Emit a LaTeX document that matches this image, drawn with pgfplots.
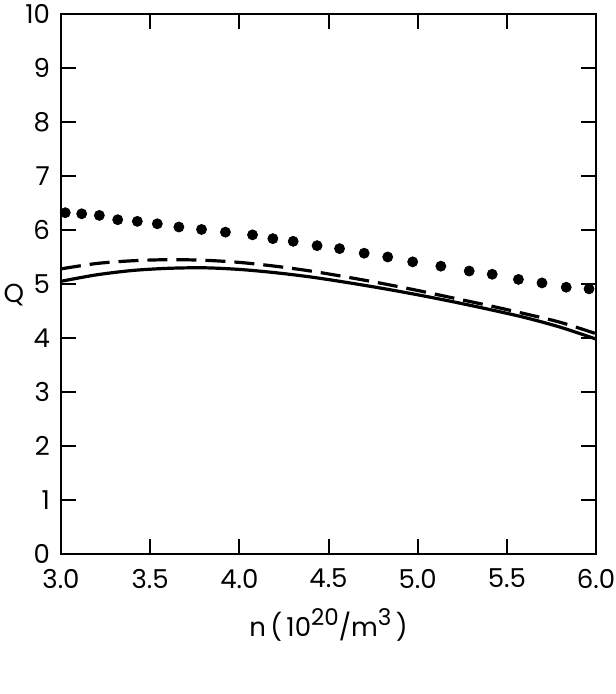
\documentclass[border=0pt]{standalone}
\usepackage{pgfplots}
\pgfplotsset{compat=1.18}
\usepackage{fontspec}
\setmainfont{Poppins}
\newcommand{\supx}[1]{\raisebox{0.45em}{\fontsize{11.5}{13}\selectfont #1}}
\begin{document}
\fontsize{13}{15}\selectfont
\begin{tikzpicture}
\path[use as bounding box] (-30.5pt,-70pt) rectangle (277pt,277pt);
\begin{axis}[
  at={(0pt,0pt)}, anchor=south west,
  scale only axis, width=267.5pt, height=270pt,
  xmin=3, xmax=6, ymin=0, ymax=10,
  xtick={3,3.5,...,6}, ytick={0,1,...,10},
  xticklabel style={/pgf/number format/.cd, fixed, fixed zerofill, precision=1},
  /pgf/number format/assume math mode=true,
  tick align=inside, major tick length=7.5pt,
  tick style={line width=1pt, black},
  axis line style={line width=1pt},
  xticklabel shift=3pt,
  yticklabel style={xshift=-1pt},
  xlabel={n\,(\,10\supx{20}/m\supx{3}\,)},
  xlabel style={yshift=-1pt},
  ylabel={Q},
  ylabel style={rotate=-90, at={(axis description cs:-0.088,0.48)}, anchor=center},
]
\addplot[black, line width=1.6pt, smooth] coordinates {
(3.0,5.05) (3.2,5.17) (3.4,5.25) (3.6,5.29) (3.8,5.30) (4.0,5.27) (4.2,5.21) (4.4,5.13) (4.6,5.03) (4.8,4.92) (5.0,4.80) (5.2,4.67) (5.4,4.53) (5.6,4.38) (5.8,4.20) (6.0,3.98)};
\addplot[black, line width=1.6pt, smooth, dash pattern=on 10pt off 4.5pt] coordinates {
(3.0,5.28) (3.2,5.38) (3.4,5.43) (3.6,5.45) (3.8,5.44) (4.0,5.40) (4.2,5.33) (4.4,5.24) (4.6,5.13) (4.8,5.01) (5.0,4.88) (5.2,4.74) (5.4,4.60) (5.6,4.45) (5.8,4.29) (6.0,4.08)};
\addplot[only marks, mark=*, mark size=2.5pt, black] coordinates {
(3.024,6.32) (3.116,6.30) (3.215,6.27) (3.318,6.19) (3.428,6.16) (3.540,6.115) (3.661,6.055) (3.788,6.01) (3.922,5.96) (4.074,5.91) (4.188,5.84) (4.302,5.79) (4.436,5.71) (4.562,5.655) (4.700,5.57) (4.832,5.50) (4.972,5.41) (5.130,5.33) (5.289,5.24) (5.418,5.18) (5.565,5.085) (5.697,5.02) (5.833,4.94) (5.961,4.91)};
\end{axis}
\end{tikzpicture}
\end{document}
